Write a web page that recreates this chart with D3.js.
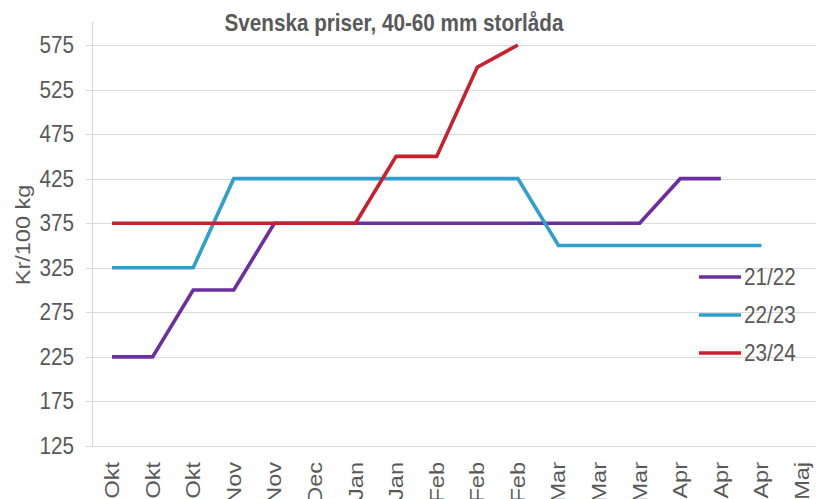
<!DOCTYPE html>
<html>
<head>
<meta charset="utf-8">
<script src="https://cdn.jsdelivr.net/npm/d3@7"></script>
<style>
  html, body { margin: 0; padding: 0; background: #fff; }
  svg { display: block; font-family: "Liberation Sans", Arial, sans-serif; }
</style>
</head>
<body>
<svg id="chart" width="816" height="499"></svg>
<script>
const categories = ["Okt","Okt","Okt","Nov","Nov","Dec","Jan","Jan","Feb","Feb","Feb","Mar","Mar","Mar","Apr","Apr","Apr","Maj"];
const s2122 = [225,225,300,300,375,375,375,375,375,375,375,375,375,375,425,425,null,null];
const s2223 = [325,325,325,425,425,425,425,425,425,425,425,350,350,350,350,350,350,null];
const s2324 = [375,375,375,375,375,375,375,450,450,550,575,null,null,null,null,null,null,null];
const seriesNames = ["21/22","22/23","23/24"];
const seriesColors = ["#6c2f9f","#2f9fcb","#c8202f"];
const yTicks = [125,175,225,275,325,375,425,475,525,575];
const title = "Svenska priser, 40-60 mm storlåda";
const yTitle = "Kr/100 kg";

const seriesData = [s2122, s2223, s2324];
const SX = 0.88;           // horizontal text compression seen in the reference
const FS = 23.5;
const textColor = "#595959";
const gridColor = "#d9d9d9";

const svg = d3.select("#chart");
const x = d3.scalePoint().domain(d3.range(categories.length)).range([112, 802]);
const y = d3.scaleLinear().domain([125, 575]).range([446, 45]);
const axisX = 92;

// gridlines
svg.append("g").selectAll("line").data(yTicks).join("line")
  .attr("x1", axisX - 6).attr("x2", 816)
  .attr("y1", d => Math.round(y(d)) + 0.5).attr("y2", d => Math.round(y(d)) + 0.5)
  .attr("stroke", gridColor).attr("stroke-width", 1.2);

// vertical axis line
svg.append("line")
  .attr("x1", axisX + 0.5).attr("x2", axisX + 0.5)
  .attr("y1", y(575) - 23).attr("y2", y(125))
  .attr("stroke", gridColor).attr("stroke-width", 1.2);

// y tick labels
svg.append("g").selectAll("text").data(yTicks).join("text")
  .attr("transform", d => `translate(74,${y(d)}) scale(${SX},1)`)
  .attr("text-anchor", "end").attr("dominant-baseline", "central")
  .attr("font-size", FS).attr("fill", textColor)
  .text(d => d);

// x tick labels (rotated)
svg.append("g").selectAll("text").data(categories.map((c, i) => ({c, i}))).join("text")
  .attr("transform", d => `translate(${x(d.i)},462) scale(${SX},1) rotate(-90)`)
  .attr("text-anchor", "end").attr("dominant-baseline", "central")
  .attr("font-size", FS).attr("fill", textColor)
  .text(d => d.c);

// y axis title
svg.append("text")
  .attr("transform", `translate(23,235) scale(${SX},1) rotate(-90)`)
  .attr("text-anchor", "middle").attr("dominant-baseline", "central")
  .attr("font-size", FS).attr("fill", textColor)
  .text(yTitle);

// title
svg.append("text")
  .attr("transform", `translate(394,31) scale(${SX},1)`)
  .attr("text-anchor", "middle")
  .attr("font-size", FS).attr("font-weight", "bold").attr("fill", textColor)
  .text(title);

// lines
const line = d3.line()
  .defined(d => d.v != null)
  .x(d => x(d.i)).y(d => y(d.v));

seriesData.forEach((s, k) => {
  svg.append("path")
    .datum(s.map((v, i) => ({v, i})))
    .attr("d", line)
    .attr("fill", "none")
    .attr("stroke", seriesColors[k])
    .attr("stroke-width", 3.6)
    .attr("stroke-linejoin", "miter");
});

// legend
const legendY = [277, 315, 353];
const lg = svg.append("g").selectAll("g").data(seriesNames).join("g");
lg.append("line")
  .attr("x1", 699).attr("x2", 741)
  .attr("y1", (d, i) => legendY[i]).attr("y2", (d, i) => legendY[i])
  .attr("stroke", (d, i) => seriesColors[i]).attr("stroke-width", 3.6);
lg.append("text")
  .attr("transform", (d, i) => `translate(744,${legendY[i]}) scale(${SX},1)`)
  .attr("dominant-baseline", "central")
  .attr("font-size", FS).attr("fill", textColor)
  .text(d => d);
</script>
</body>
</html>
